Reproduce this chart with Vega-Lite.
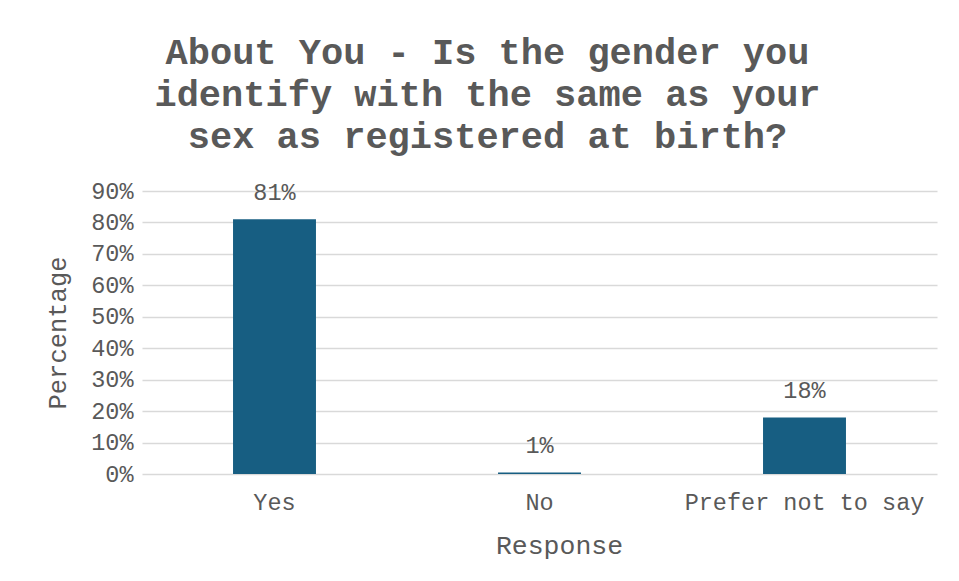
{
  "$schema": "https://vega.github.io/schema/vega-lite/v6.json",
  "width": 795,
  "height": 283,
  "autosize": {"type": "none"},
  "padding": {"left": 142, "top": 191, "right": 22, "bottom": 107},
  "background": "white",
  "config": {
    "view": {"stroke": null},
    "font": "Liberation Mono"
  },
  "title": {
    "text": ["About You - Is the gender you", "identify with the same as your", "sex as registered at birth?"],
    "font": "Liberation Mono",
    "fontSize": 37,
    "fontWeight": "bold",
    "color": "#595959",
    "lineHeight": 42,
    "anchor": "middle",
    "dx": -52,
    "offset": 23
  },
  "data": {
    "values": [
      {"Response": "Yes", "Percentage": 81, "label": "81%"},
      {"Response": "No", "Percentage": 0.5, "label": "1%"},
      {"Response": "Prefer not to say", "Percentage": 18, "label": "18%"}
    ]
  },
  "encoding": {
    "x": {
      "field": "Response",
      "type": "nominal",
      "sort": null,
      "scale": {"paddingInner": 0, "paddingOuter": 0},
      "axis": {
        "labelAngle": 0,
        "labelLimit": 0,
        "labelFont": "Liberation Mono",
        "labelFontSize": 23.5,
        "labelColor": "#595959",
        "labelPadding": 16,
        "ticks": false,
        "domain": false,
        "title": "Response",
        "titleFont": "Liberation Mono",
        "titleFontSize": 26.5,
        "titleFontWeight": "normal",
        "titleColor": "#595959",
        "titlePadding": 19,
        "titleX": 417
      }
    },
    "y": {
      "field": "Percentage",
      "type": "quantitative",
      "scale": {"domain": [0, 90], "nice": false},
      "axis": {
        "values": [0, 10, 20, 30, 40, 50, 60, 70, 80, 90],
        "labelExpr": "datum.value + '%'",
        "labelFont": "Liberation Mono",
        "labelFontSize": 23.5,
        "labelColor": "#595959",
        "labelPadding": 9,
        "ticks": false,
        "domain": false,
        "grid": true,
        "gridColor": "#D9D9D9",
        "gridWidth": 1.5,
        "title": "Percentage",
        "titleFont": "Liberation Mono",
        "titleFontSize": 25.5,
        "titleFontWeight": "normal",
        "titleColor": "#595959",
        "titlePadding": 20
      }
    }
  },
  "layer": [
    {
      "mark": {"type": "bar", "color": "#175E82", "width": {"band": 0.313}}
    },
    {
      "mark": {"type": "text", "font": "Liberation Mono", "fontSize": 23.5, "color": "#595959", "baseline": "bottom", "dy": -14},
      "encoding": {"text": {"field": "label"}}
    }
  ]
}
